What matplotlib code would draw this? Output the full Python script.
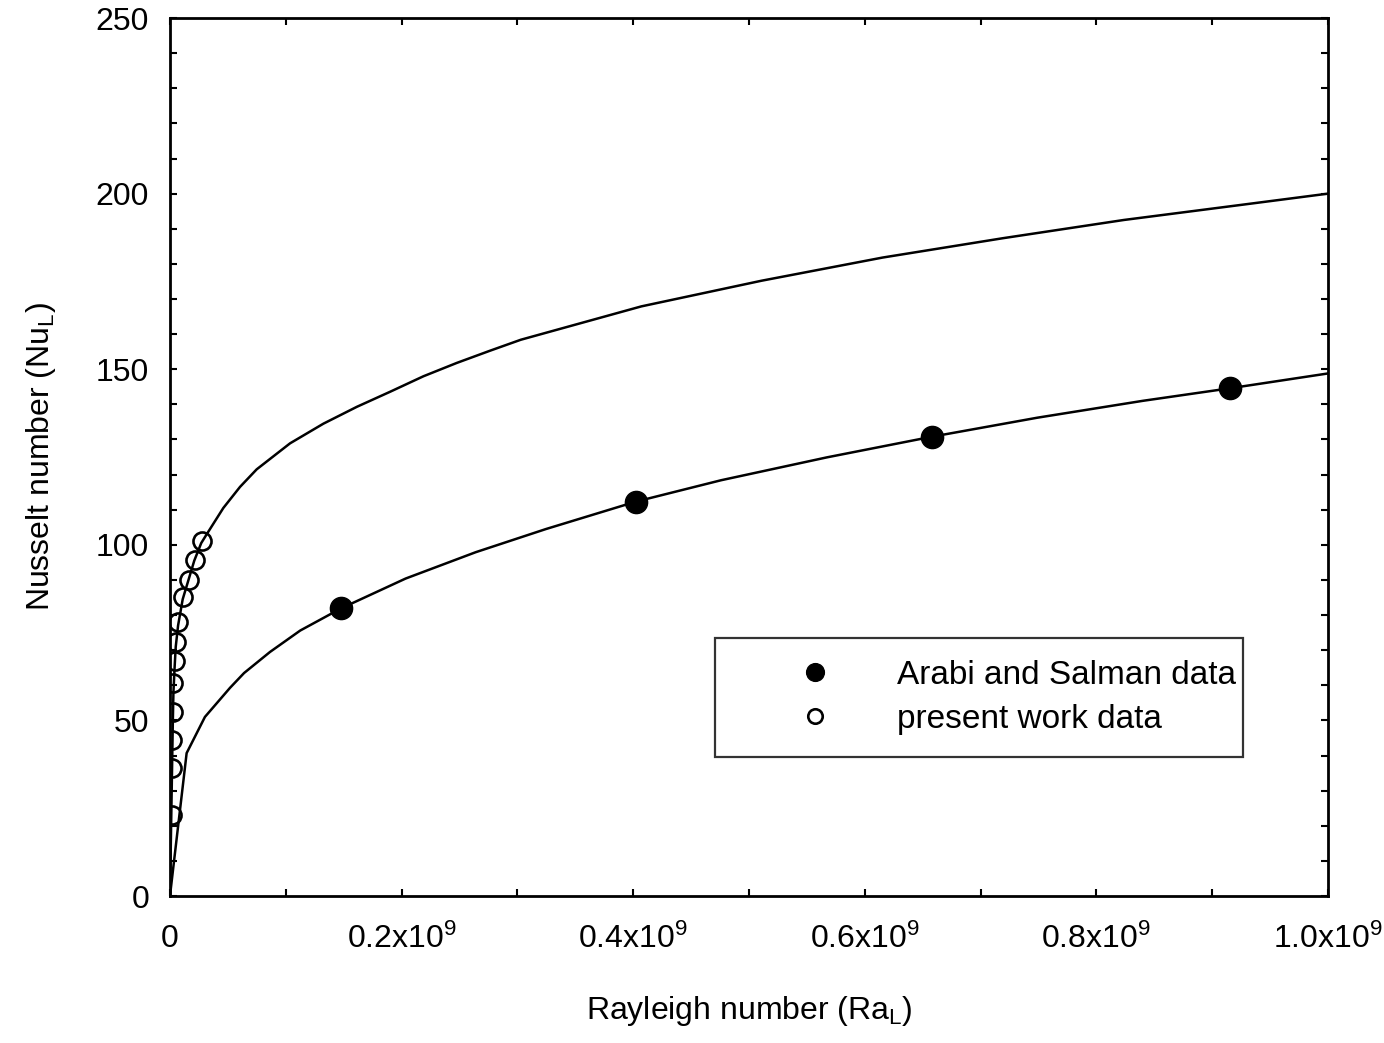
import matplotlib
matplotlib.use("Agg")
import matplotlib.pyplot as plt
from matplotlib.ticker import MultipleLocator

plt.rcParams["font.family"] = ["Liberation Sans", "DejaVu Sans"]
plt.rcParams["mathtext.fontset"] = "custom"
plt.rcParams["mathtext.rm"] = "Liberation Sans"
plt.rcParams["mathtext.it"] = "Liberation Sans"

# Rayleigh numbers in units of 1e9
upper_ra = [0.0, 0.001, 0.0015, 0.002, 0.0025, 0.003, 0.004, 0.005, 0.007, 0.011,
            0.016, 0.021, 0.027, 0.0317, 0.0461, 0.0605, 0.0749, 0.1037, 0.1325,
            0.1614, 0.1902, 0.2189, 0.2477, 0.2766, 0.303, 0.4071, 0.5108, 0.6154,
            0.7191, 0.8237, 0.9274, 1.0]
upper_nu = [0.0, 20.0, 30.0, 40.0, 50.0, 58.0, 65.0, 71.0, 77.0, 84.5,
            90.0, 95.5, 100.5, 103.0, 110.5, 116.5, 121.5, 128.9, 134.5,
            139.3, 143.6, 148.0, 151.8, 155.3, 158.4, 167.9, 175.2, 181.8,
            187.3, 192.5, 196.9, 200.0]

lower_ra = [0.0, 0.0144, 0.0302, 0.0519, 0.064, 0.0864, 0.1125, 0.1477, 0.2035,
            0.264, 0.3247, 0.4023, 0.476, 0.5672, 0.6582, 0.749, 0.84, 0.9158, 1.0]
lower_nu = [0.0, 40.7, 51.0, 59.3, 63.5, 69.5, 75.6, 81.9, 90.4,
            97.9, 104.5, 112.3, 118.4, 124.9, 130.8, 136.2, 141.0, 144.6, 148.8]

arabi_ra = [0.1477, 0.4023, 0.6582, 0.9158]
arabi_nu = [82.0, 112.2, 130.8, 144.6]

present_ra = [0.0274, 0.0216, 0.0164, 0.0112, 0.0069, 0.0052, 0.0043, 0.0026,
              0.0022, 0.0020, 0.0018, 0.0015]
present_nu = [101.2, 95.7, 90.0, 85.1, 78.0, 72.3, 66.9, 60.6,
              52.5, 44.5, 36.4, 23.1]

x_ticks = [0.0, 0.2, 0.4, 0.6, 0.8, 1.0]
x_tick_labels = ["0", r"0.2x10$^{\mathregular{9}}$", r"0.4x10$^{\mathregular{9}}$",
                 r"0.6x10$^{\mathregular{9}}$", r"0.8x10$^{\mathregular{9}}$",
                 r"1.0x10$^{\mathregular{9}}$"]

fig = plt.figure(figsize=(13.84, 10.43), dpi=100)
ax = fig.add_axes([0.1228, 0.1409, 0.8367, 0.8418])

ax.plot(upper_ra, upper_nu, color="black", linewidth=1.8, zorder=2)
ax.plot(lower_ra, lower_nu, color="black", linewidth=1.8, zorder=2)
ax.plot(arabi_ra, arabi_nu, linestyle="none", marker="o", markersize=16,
        color="black", label="Arabi and Salman data", zorder=3)
ax.plot(present_ra, present_nu, linestyle="none", marker="o", markersize=13,
        markerfacecolor="none", markeredgecolor="black", markeredgewidth=1.9,
        label="present work data", zorder=3)

ax.set_xlim(0, 1.0)
ax.set_ylim(0, 250)
ax.set_xticks(x_ticks)
ax.set_xticklabels(x_tick_labels)
ax.xaxis.set_minor_locator(MultipleLocator(0.1))
ax.yaxis.set_major_locator(MultipleLocator(50))
ax.yaxis.set_minor_locator(MultipleLocator(10))

ax.tick_params(which="both", direction="in", top=True, right=True,
               length=5, width=1.5, labelsize=23)
ax.tick_params(axis="x", which="both", pad=20)
ax.tick_params(axis="y", which="both", pad=15)
for s in ax.spines.values():
    s.set_linewidth(2.0)

ax.set_xlabel(r"Rayleigh number (Ra$_{\mathregular{L}}$)", fontsize=23, labelpad=28)
ax.set_ylabel(r"Nusselt number (Nu$_{\mathregular{L}}$)", fontsize=23, labelpad=27)

leg = ax.legend(loc="upper left", bbox_to_anchor=(0.4706, 0.0, 0.456, 0.2938),
                mode="expand", borderaxespad=0, fontsize=24, frameon=True,
                fancybox=False, edgecolor="black", handlelength=4.7,
                handletextpad=0.1, borderpad=0.66, labelspacing=0.38,
                markerscale=0.8)
leg.get_frame().set_linewidth(1.6)

fig.savefig("out.png", dpi=100)
